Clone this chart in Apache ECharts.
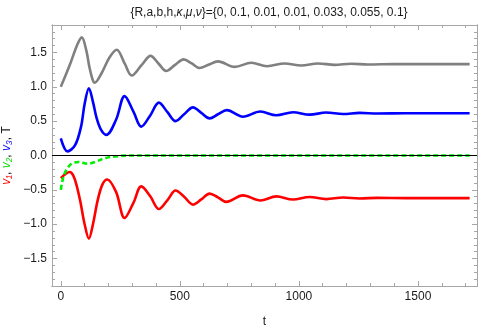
<!DOCTYPE html>
<html>
<head>
<meta charset="utf-8">
<script src="https://cdn.jsdelivr.net/npm/echarts@6/dist/echarts.min.js"></script>
<style>
  html, body { margin: 0; padding: 0; background: #fff; }
  #chart { width: 500px; height: 328px; }
</style>
</head>
<body>
<div id="chart"></div>
<script>
// v1 (red)
const tV1 = [0, 38, 52, 66, 82, 100, 118, 135, 155, 175, 195, 232, 268, 305, 338, 375, 412, 448, 482, 518, 555, 590, 625, 660, 695, 765, 838, 905, 975, 1045, 1115, 1185, 1255, 1330, 1450, 1717];
const valV1 = [-0.33, -0.24, -0.29, -0.43, -0.67, -1.0, -1.21, -1.0, -0.65, -0.42, -0.35, -0.53, -0.91, -0.69, -0.45, -0.59, -0.78, -0.65, -0.51, -0.6, -0.715, -0.64, -0.555, -0.61, -0.675, -0.58, -0.655, -0.595, -0.64, -0.605, -0.635, -0.612, -0.625, -0.617, -0.62, -0.62];
// v2 (green, dashed)
const tV2 = [0, 5, 12, 25, 45, 75, 115, 150, 190, 240, 300, 1717];
const valV2 = [-0.5, -0.4, -0.3, -0.2, -0.12, -0.095, -0.12, -0.085, -0.035, -0.01, 0, 0];
// v3 (blue)
const tV3 = [0, 28, 60, 85, 100, 118, 135, 150, 168, 191, 232, 268, 305, 338, 375, 412, 448, 482, 518, 555, 590, 625, 660, 697, 765, 838, 905, 975, 1045, 1115, 1185, 1255, 1330, 1450, 1717];
const valV3 = [0.25, 0.06, 0.15, 0.42, 0.75, 0.98, 0.78, 0.55, 0.38, 0.30, 0.52, 0.865, 0.64, 0.42, 0.58, 0.77, 0.63, 0.50, 0.60, 0.70, 0.62, 0.54, 0.6, 0.66, 0.565, 0.64, 0.585, 0.63, 0.595, 0.625, 0.605, 0.62, 0.612, 0.615, 0.615];
// T (gray)
const tT = [0, 40, 70, 88, 107, 120, 134, 142, 170, 205, 235, 268, 298, 340, 377, 410, 443, 480, 516, 550, 583, 620, 660, 730, 800, 866, 940, 1010, 1080, 1150, 1220, 1290, 1400, 1717];
const valT = [1.0, 1.34, 1.62, 1.72, 1.53, 1.29, 1.10, 1.06, 1.19, 1.43, 1.54, 1.34, 1.165, 1.32, 1.45, 1.34, 1.23, 1.32, 1.40, 1.34, 1.275, 1.32, 1.37, 1.29, 1.35, 1.30, 1.34, 1.31, 1.34, 1.32, 1.335, 1.325, 1.33, 1.33];

const xMajorTicks = [0, 500, 1000, 1500];
const xMinorTicks = [100, 200, 300, 400, 600, 700, 800, 900, 1100, 1200, 1300, 1400, 1600, 1700];
const yMajorTicks = [-1.5, -1, -0.5, 0, 0.5, 1, 1.5];
const yMinorTicks = [-1.8, -1.7, -1.6, -1.4, -1.3, -1.2, -1.1, -0.9, -0.8, -0.7, -0.6, -0.4, -0.3, -0.2, -0.1,
  0.1, 0.2, 0.3, 0.4, 0.6, 0.7, 0.8, 0.9, 1.1, 1.2, 1.3, 1.4, 1.6, 1.7, 1.8];

const xMin = -37;
const xMax = 1748;
const yMin = -1.9;
const yMax = 1.9;
const frameColor = '#a6a6a6';
const textColor = '#1a1a1a';
const fontFamily = '"Liberation Sans", Arial, sans-serif';

const zip = (ts, vs) => ts.map((t, i) => [t, vs[i]]);

const makeAxis = (dim, position, ticks, len, labelFmt) => ({
  type: 'value',
  position,
  min: dim === 'x' ? xMin : yMin,
  max: dim === 'x' ? xMax : yMax,
  axisLine: { show: true, onZero: false, lineStyle: { color: frameColor, width: 1 } },
  axisTick: { show: true, inside: true, length: len, customValues: ticks, lineStyle: { color: frameColor, width: 1 } },
  axisLabel: labelFmt ? {
    show: true,
    customValues: ticks,
    formatter: labelFmt,
    color: textColor,
    fontSize: 12,
    fontFamily,
    margin: 5,
  } : { show: false },
  splitLine: { show: false },
});

const chart = echarts.init(document.getElementById('chart'), null, { renderer: 'canvas' });

const xMain = makeAxis('x', 'bottom', xMajorTicks, 5, (v) => String(v));
xMain.name = 't';
xMain.nameLocation = 'middle';
xMain.nameGap = 30;
xMain.nameTextStyle = { color: textColor, fontSize: 12, fontFamily };

const yMain = makeAxis('y', 'left', yMajorTicks, 5, (v) => v.toFixed(1).replace('-', '\u2212'));
yMain.name = '{r|v\u2081}{k|, }{g|v\u2082}{k|, }{b|v\u2083}{k|, T}';
yMain.nameLocation = 'middle';
yMain.nameGap = 35;
yMain.nameRotate = 90;
yMain.nameTextStyle = {
  fontSize: 12,
  fontFamily,
  rich: {
    r: { color: '#ff0000', fontStyle: 'italic', fontSize: 12, fontFamily },
    g: { color: '#00dd00', fontStyle: 'italic', fontSize: 12, fontFamily },
    b: { color: '#0000ff', fontStyle: 'italic', fontSize: 12, fontFamily },
    k: { color: textColor, fontSize: 12, fontFamily },
  },
};

const lineSeries = (name, ts, vs, color, extra) => Object.assign({
  name,
  type: 'line',
  data: zip(ts, vs),
  showSymbol: false,
  smooth: 0.35,
  clip: true,
  lineStyle: { color, width: 2.6 },
  itemStyle: { color },
}, extra || {});

chart.setOption({
  animation: false,
  title: {
    text: '{R,a,b,h,{i|\u03ba},{i|\u03bc},{i|\u03bd}}={0, 0.1, 0.01, 0.01, 0.033, 0.055, 0.1}',
    left: 264,
    textAlign: 'center',
    top: 2,
    textStyle: {
      color: textColor,
      fontSize: 12,
      fontWeight: 'normal',
      fontFamily,
      rich: {
        i: { fontStyle: 'italic', color: textColor, fontSize: 12, fontFamily },
      },
    },
  },
  grid: {
    left: 52, right: 23, top: 25, bottom: 42, containLabel: false, outerBoundsMode: 'none',
  },
  xAxis: [
    xMain,
    makeAxis('x', 'bottom', xMinorTicks, 3),
    makeAxis('x', 'top', xMajorTicks, 5),
    makeAxis('x', 'top', xMinorTicks, 3),
  ],
  yAxis: [
    yMain,
    makeAxis('y', 'left', yMinorTicks, 3),
    makeAxis('y', 'right', yMajorTicks, 5),
    makeAxis('y', 'right', yMinorTicks, 3),
  ],
  series: [
    lineSeries('v1', tV1, valV1, '#ff0000', {
      markLine: {
        silent: true,
        symbol: 'none',
        label: { show: false },
        lineStyle: { color: '#000', width: 1, type: 'solid' },
        data: [{ yAxis: 0 }],
      },
    }),
    lineSeries('v2', tV2, valV2, '#00ee00', {
      lineStyle: { color: '#00ee00', width: 2.6, type: [5, 3] },
    }),
    lineSeries('v3', tV3, valV3, '#0000ff'),
    lineSeries('T', tT, valT, '#808080'),
  ],
});
</script>
</body>
</html>
